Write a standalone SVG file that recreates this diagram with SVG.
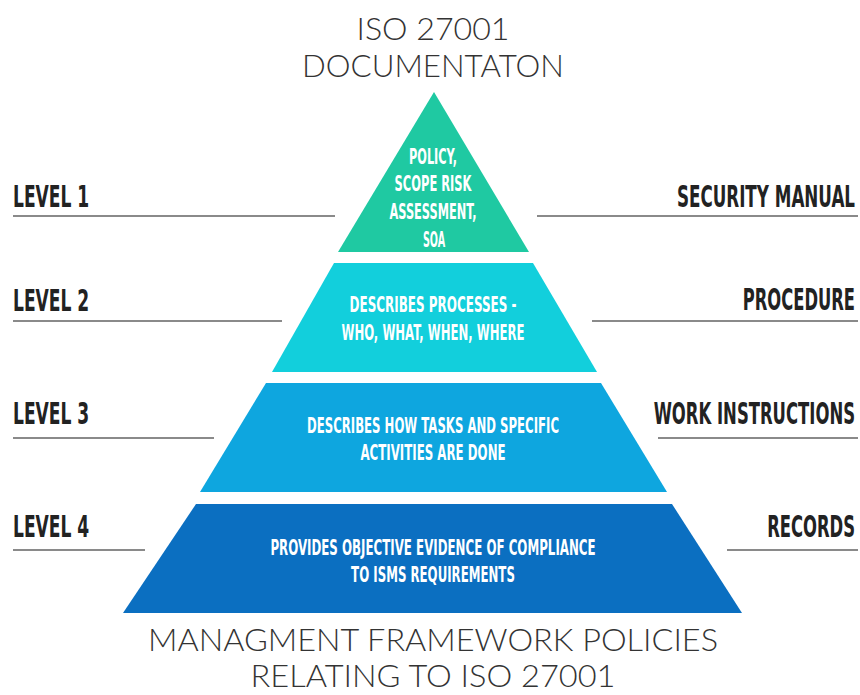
<svg xmlns="http://www.w3.org/2000/svg" width="860" height="695" viewBox="0 0 860 695">
<style>
.title{font-family:Lato,"Open Sans","Liberation Sans",sans-serif;font-weight:300;font-size:32px;fill:#333;text-anchor:middle}
.lbl{font-family:"DejaVu Sans Condensed","DejaVu Sans","Liberation Sans",sans-serif;font-weight:bold;font-size:30px;fill:#222}
.r{text-anchor:end}
.in{font-family:"DejaVu Sans Condensed","DejaVu Sans","Liberation Sans",sans-serif;font-weight:bold;font-size:20.5px;fill:#fff;text-anchor:middle}
.ln{stroke:#8a8a8a;stroke-width:2;fill:none}
</style>
<rect width="860" height="695" fill="#fff"/>
<g id="title">
<text class="title" x="433" y="40" textLength="153" lengthAdjust="spacingAndGlyphs">ISO 27001</text>
<text class="title" x="433" y="77" textLength="262" lengthAdjust="spacingAndGlyphs">DOCUMENTATON</text>
</g>
<g id="connectors">
<line class="ln" x1="13" y1="216" x2="335" y2="216"/>
<line class="ln" x1="537" y1="216" x2="858" y2="216"/>
<line class="ln" x1="13" y1="321" x2="282" y2="321"/>
<line class="ln" x1="592" y1="321" x2="858" y2="321"/>
<line class="ln" x1="13" y1="438" x2="214" y2="438"/>
<line class="ln" x1="658" y1="438" x2="858" y2="438"/>
<line class="ln" x1="13" y1="550" x2="145" y2="550"/>
<line class="ln" x1="727" y1="550" x2="858" y2="550"/>
</g>
<g id="tier1">
<polygon points="434,92 529,252 338,252" fill="#1fc9a2"/>
<text class="in" transform="translate(433,164) scale(0.6,1)" x="0" y="0" textLength="80" lengthAdjust="spacingAndGlyphs">POLICY,</text>
<text class="in" transform="translate(433,191) scale(0.6,1)" x="0" y="0" textLength="128" lengthAdjust="spacingAndGlyphs">SCOPE RISK</text>
<text class="in" transform="translate(433,219) scale(0.6,1)" x="0" y="0" textLength="145" lengthAdjust="spacingAndGlyphs">ASSESSMENT,</text>
<text class="in" transform="translate(434,247) scale(0.6,1)" x="0" y="0" textLength="37" lengthAdjust="spacingAndGlyphs">SOA</text>
</g>
<g id="tier2">
<polygon points="334,263 533,263 597,372 272,372" fill="#12cfdc"/>
<text class="in" transform="translate(433,312) scale(0.6,1)" x="0" y="0" textLength="278" lengthAdjust="spacingAndGlyphs">DESCRIBES PROCESSES -</text>
<text class="in" transform="translate(433,340) scale(0.6,1)" x="0" y="0" textLength="305" lengthAdjust="spacingAndGlyphs">WHO, WHAT, WHEN, WHERE</text>
</g>
<g id="tier3">
<polygon points="266,383 601,383 667,492 200,492" fill="#0ea6df"/>
<text class="in" transform="translate(433,433) scale(0.6,1)" x="0" y="0" textLength="420" lengthAdjust="spacingAndGlyphs">DESCRIBES HOW TASKS AND SPECIFIC</text>
<text class="in" transform="translate(433,460) scale(0.6,1)" x="0" y="0" textLength="242" lengthAdjust="spacingAndGlyphs">ACTIVITIES ARE DONE</text>
</g>
<g id="tier4">
<polygon points="196,504 672,504 742,613 123,613" fill="#0b6fc1"/>
<text class="in" transform="translate(433,555) scale(0.6,1)" x="0" y="0" textLength="542" lengthAdjust="spacingAndGlyphs">PROVIDES OBJECTIVE EVIDENCE OF COMPLIANCE</text>
<text class="in" transform="translate(433,582) scale(0.6,1)" x="0" y="0" textLength="273" lengthAdjust="spacingAndGlyphs">TO ISMS REQUIREMENTS</text>
</g>
<g id="level1"><text class="lbl" transform="translate(13,207) scale(0.61,1)" x="0" y="0" textLength="125" lengthAdjust="spacingAndGlyphs">LEVEL 1</text></g>
<g id="level2"><text class="lbl" transform="translate(13,311) scale(0.61,1)" x="0" y="0" textLength="125" lengthAdjust="spacingAndGlyphs">LEVEL 2</text></g>
<g id="level3"><text class="lbl" transform="translate(13,424) scale(0.61,1)" x="0" y="0" textLength="125" lengthAdjust="spacingAndGlyphs">LEVEL 3</text></g>
<g id="level4"><text class="lbl" transform="translate(13,537) scale(0.61,1)" x="0" y="0" textLength="125" lengthAdjust="spacingAndGlyphs">LEVEL 4</text></g>
<g id="security-manual"><text class="lbl r" transform="translate(855,207) scale(0.61,1)" x="0" y="0" textLength="292" lengthAdjust="spacingAndGlyphs">SECURITY MANUAL</text></g>
<g id="procedure"><text class="lbl r" transform="translate(855,310) scale(0.61,1)" x="0" y="0" textLength="184" lengthAdjust="spacingAndGlyphs">PROCEDURE</text></g>
<g id="work-instructions"><text class="lbl r" transform="translate(855,424) scale(0.61,1)" x="0" y="0" textLength="330" lengthAdjust="spacingAndGlyphs">WORK INSTRUCTIONS</text></g>
<g id="records"><text class="lbl r" transform="translate(855,537) scale(0.61,1)" x="0" y="0" textLength="144" lengthAdjust="spacingAndGlyphs">RECORDS</text></g>
<g id="footer">
<text class="title" x="433" y="651" textLength="570" lengthAdjust="spacingAndGlyphs">MANAGMENT FRAMEWORK POLICIES</text>
<text class="title" x="433" y="687" textLength="365" lengthAdjust="spacingAndGlyphs">RELATING TO ISO 27001</text>
</g>
</svg>
